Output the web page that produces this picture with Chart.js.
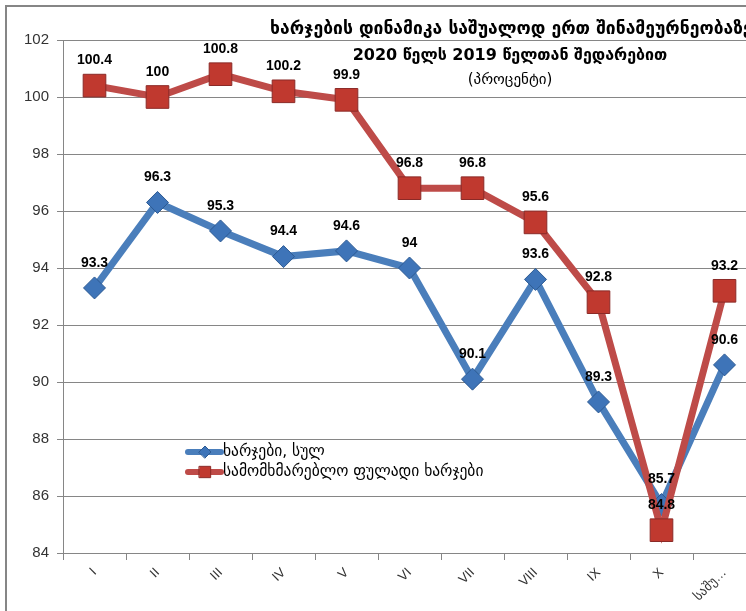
<!DOCTYPE html>
<html>
<head>
<meta charset="utf-8">
<script src="https://cdn.jsdelivr.net/npm/chart.js@4.4.1/dist/chart.umd.min.js"></script>
<style>
  html, body { margin: 0; padding: 0; background: #fff; overflow: hidden; }
  #wrap { width: 775px; height: 640px; }
</style>
</head>
<body>
<div id="wrap"><canvas id="chart" width="775" height="640"></canvas></div>
<script>
const categories = ['I', 'II', 'III', 'IV', 'V', 'VI', 'VII', 'VIII', 'IX', 'X', 'საშუალოდ'];
const totalSpending = [93.3, 96.3, 95.3, 94.4, 94.6, 94, 90.1, 93.6, 89.3, 85.7, 90.6];
const consumerSpending = [100.4, 100, 100.8, 100.2, 99.9, 96.8, 96.8, 95.6, 92.8, 84.8, 93.2];
const seriesNames = ['ხარჯები, სულ', 'სამომხმარებლო ფულადი ხარჯები'];
const titleLines = [
  'ხარჯების დინამიკა საშუალოდ ერთ შინამეურნეობაზე',
  '2020 წელს 2019 წელთან შედარებით',
  '(პროცენტი)'
];
const yMin = 84, yMax = 102, yStep = 2;

const BLUE = '#4a7ebb';
const RED = '#be4b48';
const GRID = '#868686';
const FONT = "'Liberation Sans', 'DejaVu Sans', sans-serif";
const GEO = "'DejaVu Sans', sans-serif";

const framePlugin = {
  id: 'frame',
  beforeDraw(chart) {
    const ctx = chart.ctx;
    ctx.save();
    ctx.fillStyle = '#fff';
    ctx.fillRect(0, 0, chart.width, chart.height);
    ctx.strokeStyle = GRID;
    ctx.lineWidth = 2;
    ctx.strokeRect(6, 6, chart.width, chart.height);
    ctx.restore();
  }
};

const titlePlugin = {
  id: 'titleText',
  afterDraw(chart) {
    const ctx = chart.ctx;
    ctx.save();
    ctx.fillStyle = '#000';
    ctx.textBaseline = 'middle';
    ctx.textAlign = 'left';
    ctx.font = 'bold 17.5px ' + GEO;
    ctx.fillText(titleLines[0], 270, 29);
    ctx.textAlign = 'center';
    ctx.font = 'bold 16px ' + GEO;
    ctx.fillText(titleLines[1], 510, 56);
    ctx.font = '15px ' + GEO;
    ctx.fillText(titleLines[2], 510, 80);
    ctx.restore();
  }
};

const valueLabelPlugin = {
  id: 'valueLabels',
  afterDatasetsDraw(chart) {
    const ctx = chart.ctx;
    ctx.save();
    ctx.fillStyle = '#000';
    ctx.font = 'bold 14px ' + FONT;
    ctx.textAlign = 'center';
    ctx.textBaseline = 'middle';
    chart.data.datasets.forEach((ds, i) => {
      const meta = chart.getDatasetMeta(i);
      meta.data.forEach((pt, j) => {
        ctx.fillText(String(ds.data[j]), pt.x, pt.y - 25);
      });
    });
    ctx.restore();
  }
};

const legendPlugin = {
  id: 'innerLegend',
  afterDraw(chart) {
    const ctx = chart.ctx;
    ctx.save();
    const x0 = 188, rows = [452, 472];
    chart.data.datasets.forEach((ds, i) => {
      const y = rows[i];
      ctx.strokeStyle = ds.borderColor;
      ctx.lineWidth = 6;
      ctx.lineCap = 'round';
      ctx.beginPath();
      ctx.moveTo(x0, y);
      ctx.lineTo(x0 + 33, y);
      ctx.stroke();
      ctx.fillStyle = ds.pointBackgroundColor;
      ctx.strokeStyle = ds.pointBorderColor;
      ctx.lineWidth = 1;
      Chart.helpers.drawPoint(ctx, {
        pointStyle: ds.pointStyle,
        radius: ds.pointStyle === 'rect' ? 8 : 6,
        rotation: 0,
        borderWidth: 1
      }, x0 + 17, y);
      ctx.fillStyle = '#000';
      ctx.font = '15.5px ' + GEO;
      ctx.textAlign = 'left';
      ctx.textBaseline = 'middle';
      ctx.fillText(ds.label, x0 + 35, y);
    });
    ctx.restore();
  }
};

new Chart(document.getElementById('chart'), {
  type: 'line',
  data: {
    labels: categories,
    datasets: [
      {
        label: seriesNames[0],
        data: totalSpending,
        borderColor: BLUE,
        borderWidth: 7,
        tension: 0,
        pointStyle: 'rectRot',
        pointRadius: 11,
        pointBackgroundColor: '#3e74b8',
        pointBorderColor: '#2c5a93',
        pointBorderWidth: 1,
        order: 1
      },
      {
        label: seriesNames[1],
        data: consumerSpending,
        borderColor: RED,
        borderWidth: 7,
        tension: 0,
        pointStyle: 'rect',
        pointRadius: 16,
        pointBackgroundColor: '#c0392f',
        pointBorderColor: '#8b2a27',
        pointBorderWidth: 1,
        order: 0
      }
    ]
  },
  options: {
    responsive: false,
    animation: false,
    devicePixelRatio: 1,
    layout: { padding: { top: 40, right: 19, left: 0, bottom: 0 } },
    plugins: {
      legend: { display: false },
      title: { display: false },
      tooltip: { enabled: false }
    },
    scales: {
      x: {
        offset: true,
        grid: { offset: true, drawOnChartArea: false, drawTicks: true, tickLength: 7, color: GRID },
        border: { color: GRID, width: 1 },
        ticks: {
          autoSkip: false,
          minRotation: 45,
          maxRotation: 45,
          padding: 5,
          color: '#333',
          font: { family: FONT, size: 13 },
          callback(value) {
            const l = this.getLabelForValue(value);
            return l.length > 5 ? l.slice(0, 4) + '…' : l;
          }
        },
        afterFit(scale) { scale.height = 87; }
      },
      y: {
        min: yMin,
        max: yMax,
        grid: { color: GRID, tickLength: 6 },
        border: { color: GRID, width: 1 },
        ticks: {
          stepSize: yStep,
          padding: 8,
          color: '#333',
          font: { family: FONT, size: 15 }
        },
        afterFit(scale) { scale.width = 63; }
      }
    }
  },
  plugins: [framePlugin, titlePlugin, valueLabelPlugin, legendPlugin]
});
</script>
</body>
</html>
